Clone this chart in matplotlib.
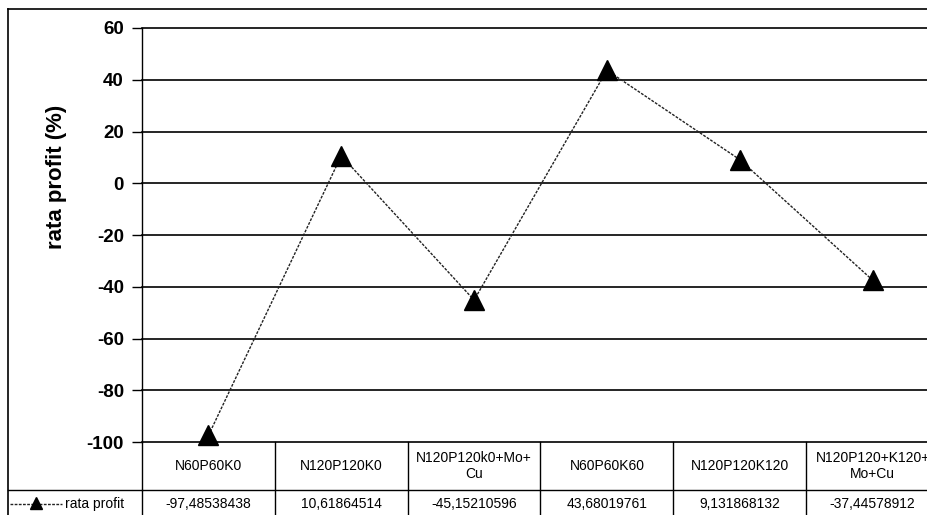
import matplotlib.pyplot as plt
from matplotlib.lines import Line2D
from matplotlib.transforms import blended_transform_factory

plt.rcParams['font.family'] = ['Liberation Sans', 'DejaVu Sans']

# variantes de fertilizare si rata profitului (%)
variante = ['N60P60K0', 'N120P120K0', 'N120P120k0+Mo+\nCu', 'N60P60K60',
            'N120P120K120', 'N120P120+K120+\nMo+Cu']
rata_profit = [-97.48538438, 10.61864514, -45.15210596, 43.68019761,
               9.131868132, -37.44578912]
valori_text = ['-97,48538438', '10,61864514', '-45,15210596', '43,68019761',
               '9,131868132', '-37,44578912']
serie = 'rata profit'
y_ticks = [60, 40, 20, 0, -20, -40, -60, -80, -100]

W, H = 927, 515
fig = plt.figure(figsize=(W / 100, H / 100), dpi=100)

# zona graficului in pixeli (stanga, sus, dreapta, jos)
px_l, px_t, px_r, px_b = 142, 28, 939, 442
ax = fig.add_axes([px_l / W, 1 - px_b / H, (px_r - px_l) / W, (px_b - px_t) / H])

x = list(range(len(variante)))
ax.plot(x, rata_profit, color='#222222', lw=1.0, ls=(0, (2, 1.0)),
        marker='^', ms=14, mfc='black', mec='black', clip_on=False, zorder=3)

ax.set_xlim(-0.5, len(variante) - 0.5)
ax.set_ylim(-100, 60)
ax.set_yticks(y_ticks)
ax.set_yticklabels([str(v) for v in y_ticks], fontsize=13.5, fontweight='bold')
ax.tick_params(axis='y', length=7, width=1, direction='out', pad=6)
ax.set_xticks([])
for v in y_ticks:
    ax.axhline(v, color='black', lw=1.2, zorder=1, clip_on=False)
for s in ['top', 'right', 'bottom']:
    ax.spines[s].set_visible(False)
ax.spines['left'].set_linewidth(1.0)
ax.set_ylabel('rata profit (%)', fontsize=16, fontweight='bold', va='center')
ax.yaxis.set_label_coords((56 - px_l) / (px_r - px_l), (px_b - 177) / (px_b - px_t))

# tabelul de date sub grafic
tr = blended_transform_factory(ax.transData, fig.transFigure)
def fy(py):
    return 1 - py / H

row1_top, row1_bot, row2_bot = 442, 490, 516
for i in range(len(variante) + 1):
    ax.add_line(Line2D([i - 0.5, i - 0.5], [fy(row1_top), fy(row2_bot)],
                       transform=tr, color='black', lw=1.0, clip_on=False))
ax.add_line(Line2D([-0.5, len(variante) - 0.5], [fy(row1_bot), fy(row1_bot)],
                   transform=tr, color='black', lw=1.0, clip_on=False))
for i, (cat, val) in enumerate(zip(variante, valori_text)):
    ax.text(i, fy((row1_top + row1_bot) / 2), cat, transform=tr,
            ha='center', va='center', fontsize=10, linespacing=1.2)
    ax.text(i, fy((row1_bot + row2_bot) / 2 + 1), val, transform=tr,
            ha='center', va='center', fontsize=10)

# chenarul exterior si celula legendei
fig.add_artist(Line2D([8 / W, 8 / W], [fy(9), fy(516)], color='black', lw=1.2))
fig.add_artist(Line2D([8 / W, 1.0], [fy(9), fy(9)], color='black', lw=1.2))
fig.add_artist(Line2D([8 / W, px_l / W], [fy(row1_bot), fy(row1_bot)],
                      color='black', lw=1.0))
fig.add_artist(Line2D([10 / W, 62 / W], [fy(504), fy(504)], color='#222222',
                      lw=1.0, ls=(0, (2, 1.0))))
fig.add_artist(Line2D([36 / W], [fy(503)], marker='^', ms=9, color='black'))
fig.text(65 / W, fy(504), serie, ha='left', va='center', fontsize=10)

fig.savefig('out.png', dpi=100)
